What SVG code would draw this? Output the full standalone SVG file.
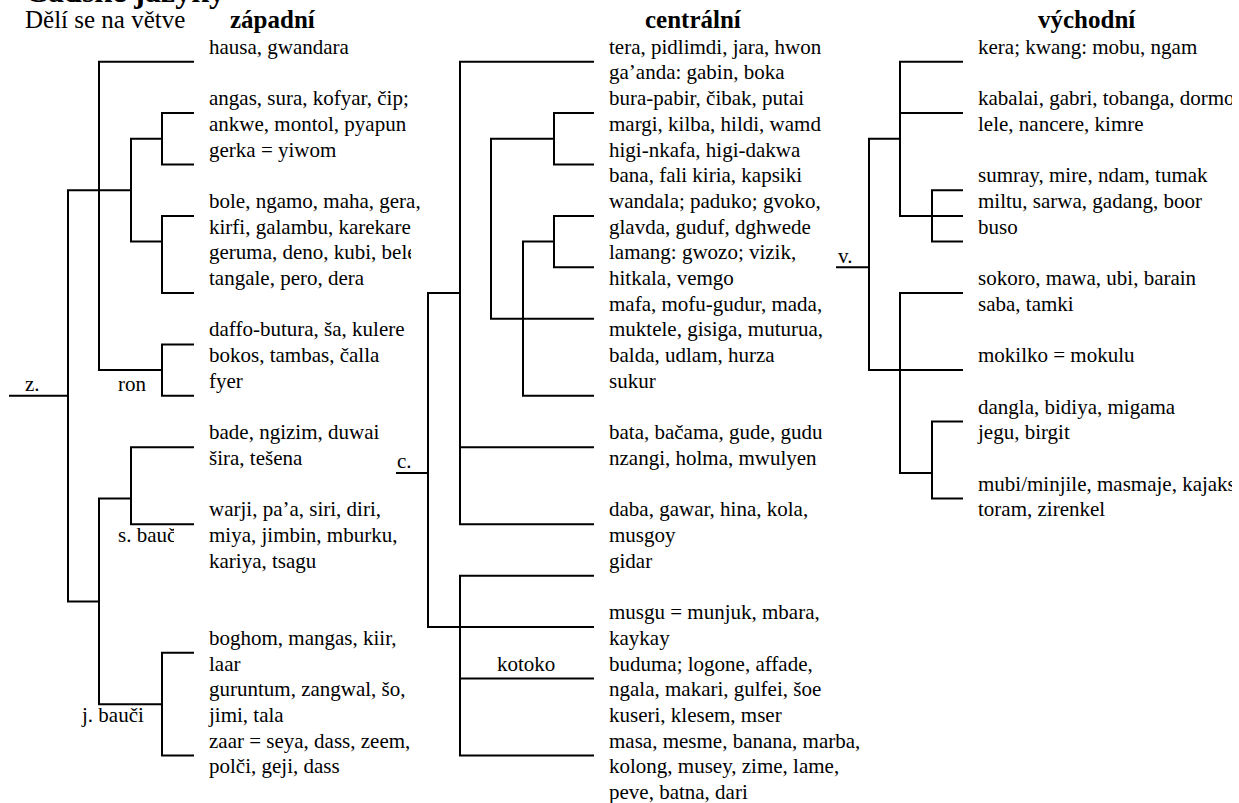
<svg xmlns="http://www.w3.org/2000/svg" width="1239" height="803" viewBox="0 0 1239 803">
<style>
text{font-family:"Liberation Serif","Times New Roman",serif;fill:#000}
.t{font-size:21px}
.h{font-size:25px;font-weight:bold}
.ti{font-size:25px}
.top{font-size:32px;font-weight:bold}
.ln{fill:none;stroke:#000;stroke-width:2;stroke-linecap:square}
</style>
<defs>
<clipPath id="clipL"><rect x="0" y="240" width="411" height="30"/></clipPath>
<clipPath id="clipS"><rect x="100" y="520" width="74" height="30"/></clipPath>
<clipPath id="clipR"><rect x="960" y="0" width="272" height="803"/></clipPath>
</defs>
<rect x="0" y="0" width="1239" height="803" fill="#fff"/>
<g id="title">
<text class="top" x="25" y="1.5">Čadské jazyky</text>
<text class="ti" x="25" y="28">Dělí se na větve</text>
</g>
<g id="headers">
<text class="h" x="230" y="28">západní</text>
<text class="h" x="645" y="28">centrální</text>
<text class="h" x="1038" y="28">východní</text>
</g>
<g id="connectors">
<path class="ln" d="M10 395.8H68M68 190.2V601.4M68 190.2H131M99 61.7V370.1M99 61.7H193M99 370.1H162M131 138.8V241.6M131 138.8H162M131 241.6H162M162 113.1V164.5M162 113.1H193M162 164.5H193M162 215.9V293M162 215.9H193M162 293H193M162 344.4V395.8M162 344.4H193M162 395.8H193M68 601.4H99M99 498.6V704.2M99 498.6H131M131 447.2V524.3M131 447.2H193M131 524.3H193M99 704.2H162M162 652.8V755.6M162 652.8H193M162 755.6H193"/>
<path class="ln" d="M397 472.9H428M428 293V627.1M428 293H460M428 627.1H593M460 61.7V524.3M460 61.7H593M460 447.2H593M460 524.3H593M491 138.8V318.7M491 138.8H554M491 318.7H593M554 113.1V164.5M554 113.1H593M554 164.5H593M523 241.6V395.8M523 241.6H554M523 395.8H593M554 215.9V267.3M554 215.9H593M554 267.3H593M460 575.7V755.6M460 575.7H593M460 678.5H593M460 755.6H593"/>
<path class="ln" d="M837 267.3H869M869 138.8V370.1M869 138.8H900M869 370.1H962M900 61.7V215.9M900 61.7H962M900 113.1H962M900 215.9H962M932 190.2V241.6M932 190.2H962M932 241.6H962M900 293V472.9M900 293H962M900 472.9H932M932 421.5V498.6M932 421.5H962M932 498.6H962"/>
</g>
<g id="labels">
<text class="t" x="25" y="391">z.</text>
<text class="t" x="118" y="391">ron</text>
<text class="t" x="118" y="542" clip-path="url(#clipS)">s. bauč</text>
<text class="t" x="82" y="721.9">j. bauči</text>
<text class="t" x="397" y="468">c.</text>
<text class="t" x="497" y="670.5">kotoko</text>
<text class="t" x="838" y="262.5">v.</text>
</g>
<g id="n-hausa"><text class="t" x="209" y="53.7">hausa, gwandara</text></g>
<g id="n-angas"><text class="t" x="209" y="105.1">angas, sura, kofyar, čip;</text><text class="t" x="209" y="130.8">ankwe, montol, pyapun</text></g>
<g id="n-gerka"><text class="t" x="209" y="156.5">gerka = yiwom</text></g>
<g id="n-bole"><text class="t" x="209" y="207.9">bole, ngamo, maha, gera,</text><text class="t" x="209" y="233.6">kirfi, galambu, karekare</text></g>
<g id="n-geruma"><text class="t" x="209" y="259.3" clip-path="url(#clipL)">geruma, deno, kubi, bele</text><text class="t" x="209" y="285">tangale, pero, dera</text></g>
<g id="n-daffo"><text class="t" x="209" y="336.4">daffo-butura, ša, kulere</text><text class="t" x="209" y="362.1">bokos, tambas, čalla</text></g>
<g id="n-fyer"><text class="t" x="209" y="387.8">fyer</text></g>
<g id="n-bade"><text class="t" x="209" y="439.2">bade, ngizim, duwai</text><text class="t" x="209" y="464.9">šira, tešena</text></g>
<g id="n-warji"><text class="t" x="209" y="516.3">warji, pa’a, siri, diri,</text><text class="t" x="209" y="542">miya, jimbin, mburku,</text><text class="t" x="209" y="567.7">kariya, tsagu</text></g>
<g id="n-boghom"><text class="t" x="209" y="644.8">boghom, mangas, kiir,</text><text class="t" x="209" y="670.5">laar</text></g>
<g id="n-guruntum"><text class="t" x="209" y="696.2">guruntum, zangwal, šo,</text><text class="t" x="209" y="721.9">jimi, tala</text></g>
<g id="n-zaar"><text class="t" x="209" y="747.6">zaar = seya, dass, zeem,</text><text class="t" x="209" y="773.3">polči, geji, dass</text></g>
<g id="n-tera"><text class="t" x="609" y="53.7">tera, pidlimdi, jara, hwon</text><text class="t" x="609" y="79.4">ga’anda: gabin, boka</text></g>
<g id="n-bura"><text class="t" x="609" y="105.1">bura-pabir, čibak, putai</text><text class="t" x="609" y="130.8">margi, kilba, hildi, wamd</text></g>
<g id="n-higi"><text class="t" x="609" y="156.5">higi-nkafa, higi-dakwa</text><text class="t" x="609" y="182.2">bana, fali kiria, kapsiki</text></g>
<g id="n-wandala"><text class="t" x="609" y="207.9">wandala; paduko; gvoko,</text><text class="t" x="609" y="233.6">glavda, guduf, dghwede</text></g>
<g id="n-lamang"><text class="t" x="609" y="259.3">lamang: gwozo; vizik,</text><text class="t" x="609" y="285">hitkala, vemgo</text></g>
<g id="n-mafa"><text class="t" x="609" y="310.7">mafa, mofu-gudur, mada,</text><text class="t" x="609" y="336.4">muktele, gisiga, muturua,</text><text class="t" x="609" y="362.1">balda, udlam, hurza</text></g>
<g id="n-sukur"><text class="t" x="609" y="387.8">sukur</text></g>
<g id="n-bata"><text class="t" x="609" y="439.2">bata, bačama, gude, gudu</text><text class="t" x="609" y="464.9">nzangi, holma, mwulyen</text></g>
<g id="n-daba"><text class="t" x="609" y="516.3">daba, gawar, hina, kola,</text><text class="t" x="609" y="542">musgoy</text></g>
<g id="n-gidar"><text class="t" x="609" y="567.7">gidar</text></g>
<g id="n-musgu"><text class="t" x="609" y="619.1">musgu = munjuk, mbara,</text><text class="t" x="609" y="644.8">kaykay</text></g>
<g id="n-buduma"><text class="t" x="609" y="670.5">buduma; logone, affade,</text><text class="t" x="609" y="696.2">ngala, makari, gulfei, šoe</text><text class="t" x="609" y="721.9">kuseri, klesem, mser</text></g>
<g id="n-masa"><text class="t" x="609" y="747.6">masa, mesme, banana, marba,</text><text class="t" x="609" y="773.3">kolong, musey, zime, lame,</text><text class="t" x="609" y="799">peve, batna, dari</text></g>
<g id="n-kera"><text class="t" x="978" y="53.7">kera; kwang: mobu, ngam</text></g>
<g id="n-kabalai" clip-path="url(#clipR)"><text class="t" x="978" y="105.1">kabalai, gabri, tobanga, dormo</text><text class="t" x="978" y="130.8">lele, nancere, kimre</text></g>
<g id="n-sumray"><text class="t" x="978" y="182.2">sumray, mire, ndam, tumak</text></g>
<g id="n-miltu"><text class="t" x="978" y="207.9">miltu, sarwa, gadang, boor</text></g>
<g id="n-buso"><text class="t" x="978" y="233.6">buso</text></g>
<g id="n-sokoro"><text class="t" x="978" y="285">sokoro, mawa, ubi, barain</text><text class="t" x="978" y="310.7">saba, tamki</text></g>
<g id="n-mokilko"><text class="t" x="978" y="362.1">mokilko = mokulu</text></g>
<g id="n-dangla"><text class="t" x="978" y="413.5">dangla, bidiya, migama</text><text class="t" x="978" y="439.2">jegu, birgit</text></g>
<g id="n-mubi" clip-path="url(#clipR)"><text class="t" x="978" y="490.6">mubi/minjile, masmaje, kajaks</text><text class="t" x="978" y="516.3">toram, zirenkel</text></g>
</svg>
